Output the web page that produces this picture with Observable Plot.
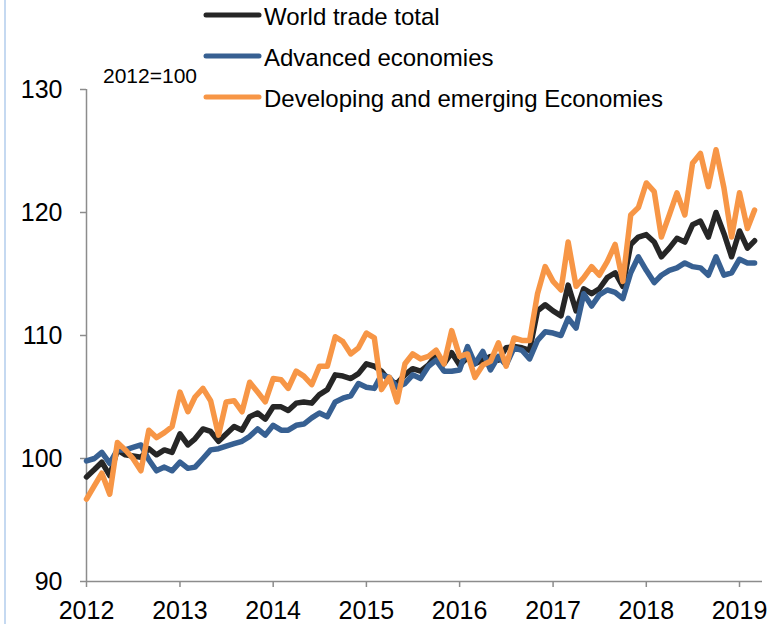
<!DOCTYPE html>
<html>
<head>
<meta charset="utf-8">
<script src="https://cdn.jsdelivr.net/npm/d3@7"></script>
<script src="https://cdn.jsdelivr.net/npm/@observablehq/plot@0.6"></script>
<style>
  html, body { margin: 0; padding: 0; background: #fff; }
  #wrap { position: relative; width: 775px; height: 624px; overflow: hidden; }
  #border { position: absolute; left: 4px; top: 0; width: 1.5px; height: 624px; background: #c5d9f1; }
  #legend { position: absolute; left: 0; top: 0; }
</style>
</head>
<body>
<div id="wrap"><div id="border"></div></div>
<script>
// Monthly index values, Jan 2012 – Mar 2019 (2012 = 100)
const startYear = 2012;
const yearTicks = [2012, 2013, 2014, 2015, 2016, 2017, 2018, 2019];
const yTicks = [90, 100, 110, 120, 130];
const seriesNames = ["World trade total", "Advanced economies", "Developing and emerging Economies"];
const seriesColors = ["#262626", "#376092", "#f79646"];

const world = [
  98.5, 99.1, 99.7, 98.6, 100.7, 100.3, 100.2, 100.1, 100.8, 100.3, 100.7, 100.5,
  102.0, 101.1, 101.6, 102.4, 102.2, 101.4, 102.0, 102.6, 102.3, 103.4, 103.7, 103.2,
  104.2, 104.2, 103.9, 104.5, 104.6, 104.5, 105.2, 105.6, 106.8, 106.7, 106.5, 106.9,
  107.7, 107.5, 107.1, 106.3, 106.1, 106.8, 107.3, 107.1, 107.6, 108.4, 107.7, 108.6,
  107.6, 108.2, 107.7, 108.0, 108.3, 108.0, 109.0, 109.1, 109.0, 108.8, 112.0, 112.5,
  112.0, 111.6, 114.1, 112.0, 113.8, 113.4, 113.8, 114.7, 115.1, 114.0, 117.4, 118.0,
  118.2, 117.6, 116.4, 117.1, 117.9, 117.6, 119.0, 119.3, 118.0, 120.0, 118.3, 116.4,
  118.5, 117.1, 117.7
];
const advanced = [
  99.8, 100.0, 100.5, 99.6, 100.7, 100.7, 100.9, 101.1, 99.9, 99.0, 99.3, 99.0,
  99.7, 99.2, 99.3, 100.0, 100.7, 100.8, 101.0, 101.2, 101.4, 101.8, 102.4, 101.9,
  102.7, 102.3, 102.3, 102.7, 102.8, 103.3, 103.7, 103.4, 104.6, 104.9, 105.1, 106.1,
  105.8, 105.7, 106.8, 106.6, 105.8, 106.1, 106.8, 106.5, 107.5, 108.0, 107.1, 107.1,
  107.2, 109.1, 107.7, 108.7, 107.2, 108.3, 107.6, 109.0, 108.8, 108.1, 109.6, 110.3,
  110.2, 110.0, 111.4, 110.6, 113.4, 112.4, 113.3, 113.7, 113.5, 113.0, 115.1, 116.4,
  115.3, 114.3, 114.9, 115.3, 115.5, 115.9, 115.6, 115.5, 114.9, 116.4, 114.9, 115.1,
  116.2, 115.9, 115.9
];
const developing = [
  96.7, 97.8, 98.8, 97.1, 101.3, 100.7, 100.0, 99.0, 102.3, 101.7, 102.1, 102.6,
  105.4, 103.8, 105.0, 105.7, 104.7, 101.9, 104.6, 104.7, 103.8, 106.2, 105.4, 104.6,
  106.5, 106.4, 105.7, 107.1, 106.7, 106.0, 107.5, 107.5, 109.9, 109.5, 108.5, 109.0,
  110.2, 109.8, 105.6, 106.6, 104.6, 107.7, 108.5, 108.1, 108.3, 108.8, 107.7, 110.4,
  108.3, 108.5, 106.6, 107.6, 107.9, 109.4, 107.5, 109.8, 109.6, 109.6, 113.4, 115.6,
  114.4, 113.7, 117.6, 114.0, 114.7, 115.6, 114.9, 116.0, 117.4, 114.4, 119.8, 120.4,
  122.4, 121.7, 118.0, 119.8, 121.6, 119.8, 124.0, 124.8, 122.1, 125.1, 122.0, 118.0,
  121.6, 118.7, 120.2
];

const month = i => new Date(Date.UTC(startYear, i, 1));
const rows = [];
[world, advanced, developing].forEach((arr, k) => {
  arr.forEach((v, i) => rows.push({date: month(i), value: v, series: seriesNames[k]}));
});

const xStart = new Date(Date.UTC(2012, 0, 1));
const xEnd = new Date(Date.UTC(2019, 3, 1));

const chart = Plot.plot({
  width: 775,
  height: 624,
  marginTop: 89,
  marginBottom: 43,
  marginLeft: 86,
  marginRight: 13,
  style: {fontFamily: "'Liberation Sans', Arial, sans-serif", fontSize: "25px", background: "transparent", color: "#000"},
  x: {type: "utc", domain: [xStart, xEnd]},
  y: {domain: [90, 130]},
  color: {domain: seriesNames, range: seriesColors},
  marks: [
    Plot.axisY({ticks: yTicks, tickSize: 6, tickPadding: 18, stroke: "#8c8c8c", strokeWidth: 1.5, fill: "#000", label: null, fontSize: 25}),
    Plot.axisX({ticks: yearTicks.map(y => new Date(Date.UTC(y, 0, 1))), tickFormat: d3.utcFormat("%Y"), tickSize: 6, tickPadding: 14, stroke: "#8c8c8c", strokeWidth: 1.5, fill: "#000", label: null, fontSize: 25}),
    Plot.ruleY([90], {stroke: "#8c8c8c", strokeWidth: 1.5}),
    Plot.ruleX([xStart], {stroke: "#8c8c8c", strokeWidth: 1.5}),
    Plot.line(rows, {x: "date", y: "value", z: "series", stroke: "series", strokeWidth: 5.5, strokeLinejoin: "round", strokeLinecap: "round"})
  ]
});
document.getElementById("wrap").appendChild(chart);

// Legend overlay
const svg = d3.select("#wrap").append("svg")
  .attr("id", "legend").attr("width", 775).attr("height", 130)
  .style("font-family", "'Liberation Sans', Arial, sans-serif");
const legendY = [15, 56, 97];
seriesNames.forEach((name, k) => {
  svg.append("line").attr("x1", 206).attr("x2", 259).attr("y1", legendY[k]).attr("y2", legendY[k])
    .attr("stroke", seriesColors[k]).attr("stroke-width", 5).attr("stroke-linecap", "round");
  svg.append("text").attr("x", 264).attr("y", legendY[k] + 10).attr("font-size", 24).attr("fill", "#000").text(name);
});
svg.append("text").attr("x", 103).attr("y", 83).attr("font-size", 21).attr("fill", "#000").text("2012=100");
</script>
</body>
</html>
